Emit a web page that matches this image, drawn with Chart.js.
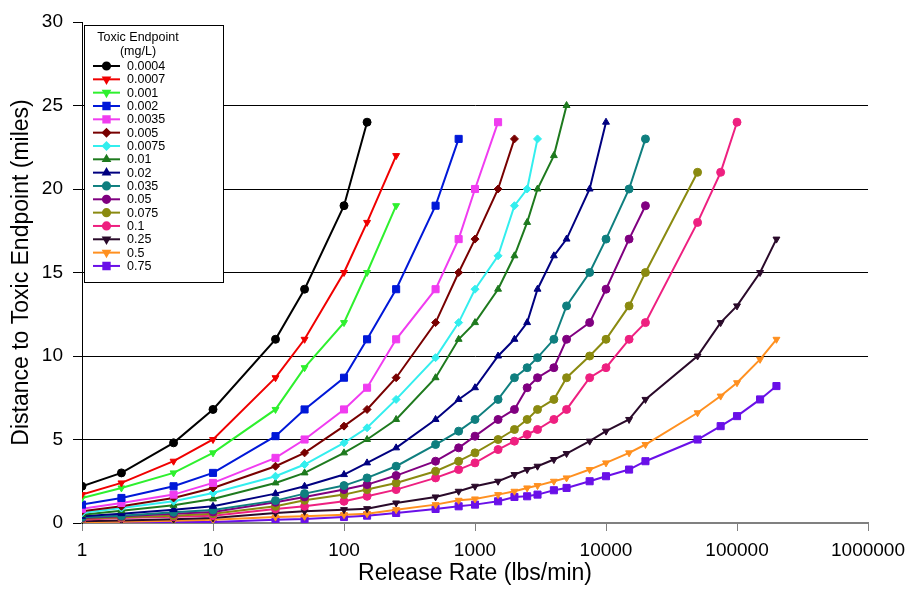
<!DOCTYPE html>
<html>
<head>
<meta charset="utf-8">
<script src="https://cdn.jsdelivr.net/npm/chart.js"></script>
<style>
  body { margin: 0; background: #fff; }
  #wrap { width: 913px; height: 593px; }
</style>
</head>
<body>
<div id="wrap"><canvas id="distanceChart" width="913" height="593"></canvas></div>
<script>
// release rates shared by every curve (lbs/min); each curve uses a prefix of this list
const rates = [1, 2, 5, 10, 30, 50, 100, 150, 250, 500, 750, 1000, 1500, 2000, 2500, 3000,
    4000, 5000, 7500, 10000, 15000, 20000, 50000, 75000, 100000, 150000, 200000];

const xTicks = [1, 10, 100, 1000, 10000, 100000, 1000000];

const endpoints = ['0.0004', '0.0007', '0.001', '0.002', '0.0035', '0.005', '0.0075', '0.01',
    '0.02', '0.035', '0.05', '0.075', '0.1', '0.25', '0.5', '0.75'];

// distance in miles for each endpoint concentration
const d0004 = [2.2, 3.0, 4.8, 6.8, 11, 14, 19, 24];
const d0007 = [1.7, 2.4, 3.7, 5.0, 8.7, 11, 15, 18, 22];
const d001 = [1.5, 2.1, 3.0, 4.2, 6.8, 9.3, 12, 15, 19];
const d002 = [1.1, 1.5, 2.2, 3.0, 5.2, 6.8, 8.7, 11, 14, 19, 23];
const d0035 = [0.85, 1.2, 1.7, 2.4, 3.9, 5.0, 6.8, 8.1, 11, 14, 17, 20, 24];
const d005 = [0.7, 1.0, 1.5, 2.1, 3.4, 4.2, 5.8, 6.8, 8.7, 12, 15, 17, 20, 23];
const d0075 = [0.6, 0.9, 1.3, 1.8, 2.8, 3.5, 4.8, 5.7, 7.4, 9.9, 12, 14, 16, 19, 20, 23];
const d01 = [0.5, 0.74, 1.06, 1.44, 2.4, 3.0, 4.2, 5.0, 6.2, 8.7, 11, 12, 14, 16, 18, 20, 22, 25];
const d02 = [0.4, 0.56, 0.8, 1.0, 1.76, 2.2, 2.9, 3.6, 4.5, 6.2, 7.4, 8.1, 10, 11, 12, 14, 16, 17, 20, 24];
const d035 = [0.34, 0.44, 0.64, 0.78, 1.34, 1.76, 2.24, 2.7, 3.4, 4.7, 5.5, 6.2, 7.4, 8.7, 9.3, 9.9,
    11, 13, 15, 17, 20, 23];
const d05 = [0.3, 0.4, 0.56, 0.66, 1.24, 1.56, 2.0, 2.3, 2.84, 3.7, 4.5, 5.2, 6.2, 6.8, 8.1, 8.7,
    9.3, 11, 12, 14, 17, 19];
const d075 = [0.25, 0.35, 0.44, 0.56, 1.0, 1.36, 1.7, 2.0, 2.4, 3.1, 3.7, 4.2, 5.0, 5.6, 6.2, 6.8,
    7.4, 8.7, 10, 11, 13, 15, 21];
const d1 = [0.2, 0.3, 0.38, 0.44, 0.84, 1.0, 1.3, 1.6, 2.0, 2.7, 3.2, 3.6, 4.4, 4.9, 5.3, 5.6,
    6.2, 6.8, 8.7, 9.3, 11, 12, 18, 21, 24];
const d25 = [0.1, 0.15, 0.22, 0.3, 0.6, 0.7, 0.8, 0.86, 1.2, 1.56, 1.9, 2.2, 2.5, 2.9, 3.2, 3.4,
    3.8, 4.16, 4.9, 5.5, 6.2, 7.4, 10, 12, 13, 15, 17];
const d5 = [0.05, 0.08, 0.14, 0.2, 0.36, 0.4, 0.5, 0.56, 0.8, 1.1, 1.36, 1.44, 1.7, 1.9, 2.1, 2.24,
    2.5, 2.7, 3.2, 3.6, 4.2, 4.7, 6.6, 7.6, 8.4, 9.8, 11];
const d75 = [0.03, 0.05, 0.06, 0.06, 0.2, 0.24, 0.36, 0.44, 0.6, 0.84, 1.0, 1.1, 1.3, 1.56, 1.6, 1.7,
    1.96, 2.1, 2.5, 2.8, 3.2, 3.7, 5.0, 5.8, 6.4, 7.4, 8.2];

const distances = [d0004, d0007, d001, d002, d0035, d005, d0075, d01, d02, d035, d05, d075, d1, d25, d5, d75];

const colors = ['#000000', '#f00000', '#2ef02e', '#0018d8', '#f03cf0', '#780000', '#33eeee', '#1e7a1e',
    '#000080', '#0f7f7f', '#800080', '#8a8a10', '#ee2080', '#2a0a2a', '#ff9020', '#6a10e8'];
const markers = ['circle', 'triangle', 'triangle', 'rect', 'rect', 'rectRot', 'rectRot', 'triangle',
    'triangle', 'circle', 'circle', 'circle', 'circle', 'triangle', 'triangle', 'rect'];
const flipped = [false, true, true, false, false, false, false, false,
    false, false, false, false, false, true, true, false];

const FONT = "'Liberation Sans', Arial, sans-serif";

const datasets = endpoints.map((label, i) => ({
    label: label,
    data: distances[i].map((d, j) => ({ x: rates[j], y: d })),
    borderColor: colors[i],
    backgroundColor: colors[i],
    borderWidth: 2,
    pointStyle: markers[i],
    pointRotation: flipped[i] ? 180 : 0,
    pointRadius: markers[i] === 'rect' ? 5 : 4,
    pointBorderWidth: 1,
    tension: 0,
    fill: false
}));

// boxed legend in the upper-left corner of the plot
const boxLegend = {
    id: 'boxLegend',
    afterDatasetsDraw(chart) {
        const ctx = chart.ctx;
        const left = 84, top = 25, w = 139, h = 257;
        ctx.save();
        ctx.fillStyle = '#fff';
        ctx.fillRect(left, top, w, h);
        ctx.strokeStyle = '#000';
        ctx.lineWidth = 1;
        ctx.strokeRect(left + 0.5, top + 0.5, w, h);

        ctx.fillStyle = '#000';
        ctx.font = '12.5px ' + FONT;
        ctx.textAlign = 'center';
        ctx.textBaseline = 'middle';
        ctx.fillText('Toxic Endpoint', 138, 38);
        ctx.fillText('(mg/L)', 138, 52);

        ctx.textAlign = 'left';
        chart.data.datasets.forEach((ds, i) => {
            const y = 66 + i * 13.33;
            ctx.strokeStyle = ds.borderColor;
            ctx.lineWidth = 2;
            ctx.beginPath();
            ctx.moveTo(93, y);
            ctx.lineTo(120, y);
            ctx.stroke();
            ctx.fillStyle = ds.backgroundColor;
            Chart.helpers.drawPoint(ctx, {
                pointStyle: ds.pointStyle,
                rotation: ds.pointRotation,
                radius: ds.pointStyle === 'rect' ? 4.5 : 3.6,
                borderWidth: 1
            }, 106.5, y);
            ctx.fillStyle = '#000';
            ctx.fillText(ds.label, 127, y + 0.5);
        });
        ctx.restore();
    }
};

new Chart(document.getElementById('distanceChart'), {
    type: 'line',
    data: { datasets: datasets },
    options: {
        responsive: false,
        animation: false,
        layout: { padding: { left: 0, right: 42, top: 22, bottom: 0 } },
        plugins: {
            legend: { display: false },
            tooltip: { enabled: false }
        },
        scales: {
            x: {
                type: 'logarithmic',
                min: 1,
                max: 1000000,
                afterBuildTicks: (scale) => { scale.ticks = xTicks.map(v => ({ value: v })); },
                afterFit: (scale) => { scale.height = 70; },
                ticks: {
                    autoSkip: false,
                    maxRotation: 0,
                    padding: 8,
                    color: '#000',
                    font: { family: FONT, size: 19 },
                    callback: (value) => String(value)
                },
                grid: {
                    drawOnChartArea: false,
                    drawTicks: true,
                    tickLength: 8,
                    color: '#808080',
                    lineWidth: 1
                },
                border: { color: '#808080', width: 2 },
                title: {
                    display: true,
                    text: 'Release Rate (lbs/min)',
                    color: '#000',
                    font: { family: FONT, size: 23 },
                    padding: { top: 0, bottom: 6 }
                }
            },
            y: {
                min: 0,
                max: 30,
                afterFit: (scale) => { scale.width = 82; },
                ticks: {
                    stepSize: 5,
                    padding: 10,
                    color: '#000',
                    font: { family: FONT, size: 19 }
                },
                grid: {
                    color: (c) => (c.tick && (c.tick.value === 0 || c.tick.value === 30)) ? 'rgba(0,0,0,0)' : '#000',
                    lineWidth: 1,
                    tickLength: 9,
                    tickColor: '#000'
                },
                border: { color: '#000', width: 1 },
                title: {
                    display: true,
                    text: 'Distance to Toxic Endpoint (miles)',
                    color: '#000',
                    font: { family: FONT, size: 23 },
                    padding: { top: 8, bottom: 0 }
                }
            }
        }
    },
    plugins: [boxLegend]
});
</script>
</body>
</html>
